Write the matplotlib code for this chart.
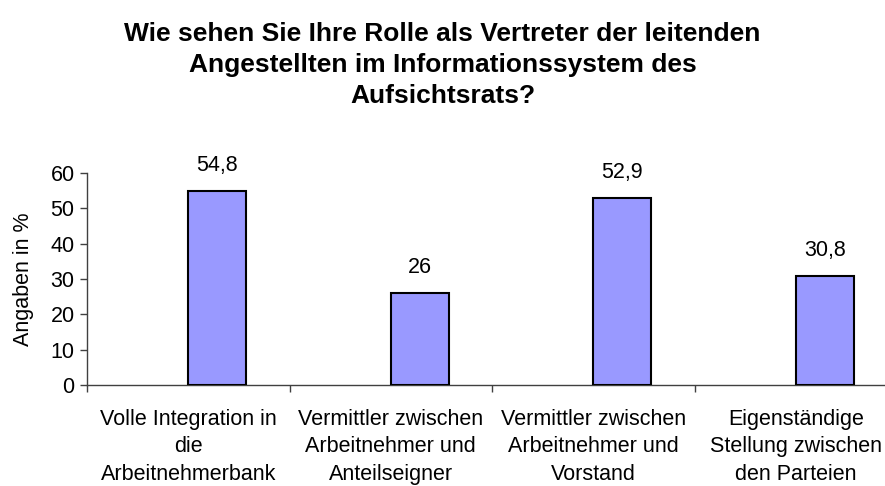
import numpy as np
import matplotlib.pyplot as plt
from matplotlib.ticker import FixedLocator, NullFormatter, FixedFormatter

plt.rcParams['font.family'] = ['Liberation Sans', 'DejaVu Sans']

# Daten
categories = ['Volle Integration in\ndie\nArbeitnehmerbank',
              'Vermittler zwischen\nArbeitnehmer und\nAnteilseigner',
              'Vermittler zwischen\nArbeitnehmer und\nVorstand',
              'Eigenständige\nStellung zwischen\nden Parteien']
values = [54.8, 26, 52.9, 30.8]
value_labels = ['54,8', '26', '52,9', '30,8']
yticks = [0, 10, 20, 30, 40, 50, 60]

fs = 15.5

fig = plt.figure(figsize=(8.85, 4.86), dpi=100)
ax = fig.add_axes([87 / 885, 101 / 486, 810 / 885, 212 / 486])

n = len(categories)
x = np.arange(n) + 0.5
ax.bar(x, values, width=0.286, align='edge', color='#9999FF',
       edgecolor='black', linewidth=1.5, zorder=3)

for xi, v, lab in zip(x, values, value_labels):
    ax.text(xi + 0.143, v + 7.3, lab, ha='center', va='center', fontsize=fs)

ax.set_xlim(0, n)
ax.set_ylim(0, 60)
ax.set_yticks(yticks)
ax.tick_params(axis='y', labelsize=fs, length=5, width=1, color='#404040', pad=4)

# Kategorie-Grenzen als Ticks, Beschriftung mittig
ax.xaxis.set_major_locator(FixedLocator(np.arange(0, n + 1)))
ax.xaxis.set_major_formatter(NullFormatter())
ax.xaxis.set_minor_locator(FixedLocator(x))
ax.xaxis.set_minor_formatter(FixedFormatter(categories))
ax.tick_params(axis='x', which='major', length=5, width=1, color='#404040')
ax.tick_params(axis='x', which='minor', length=0, labelsize=fs, pad=17)
for t in ax.xaxis.get_minorticklabels():
    t.set_linespacing(1.42)

for s in ['top', 'right']:
    ax.spines[s].set_visible(False)
for s in ['left', 'bottom']:
    ax.spines[s].set_color('#404040')
    ax.spines[s].set_linewidth(1)

ax.set_ylabel('Angaben in %', fontsize=fs, labelpad=12)

fig.text(0.5, 1 - 65 / 486, 'Wie sehen Sie Ihre Rolle als Vertreter der leitenden\n'
         'Angestellten im Informationssystem des\nAufsichtsrats?',
         ha='center', va='center', fontsize=19, fontweight='bold', linespacing=1.36)

fig.savefig('out.png', dpi=100)
